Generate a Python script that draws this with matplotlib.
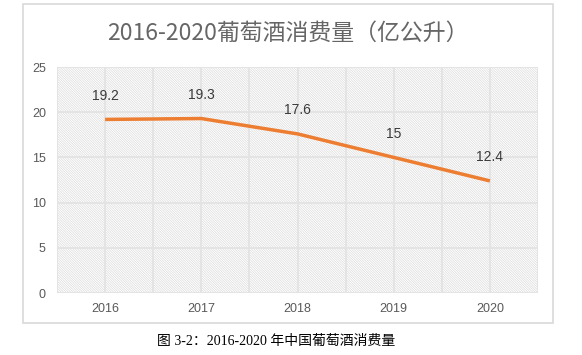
import matplotlib
matplotlib.use("Agg")
import matplotlib.pyplot as plt
from matplotlib.patches import Rectangle
import numpy as np

years = ["2016", "2017", "2018", "2019", "2020"]
values = [19.2, 19.3, 17.6, 15, 12.4]
value_labels = ["19.2", "19.3", "17.6", "15", "12.4"]
yticks = [0, 5, 10, 15, 20, 25]
title = "2016-2020葡萄酒消费量（亿公升）"
caption = "图 3-2：2016-2020 年中国葡萄酒消费量"

plt.rcParams['font.family'] = ['Noto Sans CJK SC', 'DejaVu Sans']
plt.rcParams['hatch.linewidth'] = 0.5

W, H = 582, 355
fig = plt.figure(figsize=(W/100, H/100), dpi=100)
fig.patch.set_facecolor("white")

# chart frame
fig.patches.append(Rectangle((23/W, 1 - 323/H), (553-23)/W, (323-4)/H,
                             transform=fig.transFigure, fill=False,
                             edgecolor="#d9d9d9", linewidth=1.2, zorder=0))

ax = fig.add_axes([57/W, 1 - 293/H, (538-57)/W, (293-67)/H])
x = np.arange(len(years))
ax.set_xlim(-0.5, len(years) - 0.5)
ax.set_ylim(0, 25)

# hatched plot area
ax.add_patch(Rectangle((0, 0), 1, 1, transform=ax.transAxes, facecolor="white",
                       edgecolor="#dcdcdc", hatch="\\" * 14, linewidth=0, zorder=0))

# grid lines
for yv in yticks:
    ax.axhline(yv, color="#e3e3e3", linewidth=1.3, zorder=1)
for xv in np.arange(-0.5, len(years), 0.5):
    ax.axvline(xv, color="#e3e3e3", linewidth=1.3, zorder=1)

ax.plot(x, values, color="#ED7D31", linewidth=2.5, zorder=3, solid_capstyle="butt")
for xi, v, lab in zip(x, values, value_labels):
    ax.annotate(lab, (xi, v), xytext=(0, 12), textcoords="offset points",
                ha="center", va="bottom", fontsize=10, color="#3a3a3a",
                family=["Liberation Sans", "DejaVu Sans"], zorder=4)

for s in ax.spines.values():
    s.set_visible(False)
ax.set_xticks(x)
ax.set_xticklabels(years, fontsize=9, color="#595959",
                   family=["Liberation Sans", "DejaVu Sans"])
ax.set_yticks(yticks)
ax.set_yticklabels([str(t) for t in yticks], fontsize=9, color="#595959",
                   family=["Liberation Sans", "DejaVu Sans"])
ax.tick_params(length=0, pad=8)
ax.tick_params(axis="x", pad=7)

fig.text(0.5 * (23 + 553) / W, 1 - 33/H, title, ha="center", va="center",
         fontsize=16.5, color="#666666",
         family=["Noto Sans CJK SC", "DejaVu Sans"])
fig.text(0.5 * (23 + 553) / W - 0.02, 1 - 341/H, caption, ha="center", va="center",
         fontsize=10, color="black",
         family=["Liberation Serif", "Noto Sans CJK SC", "DejaVu Sans"])

fig.savefig("out.png", dpi=100, facecolor="white")
